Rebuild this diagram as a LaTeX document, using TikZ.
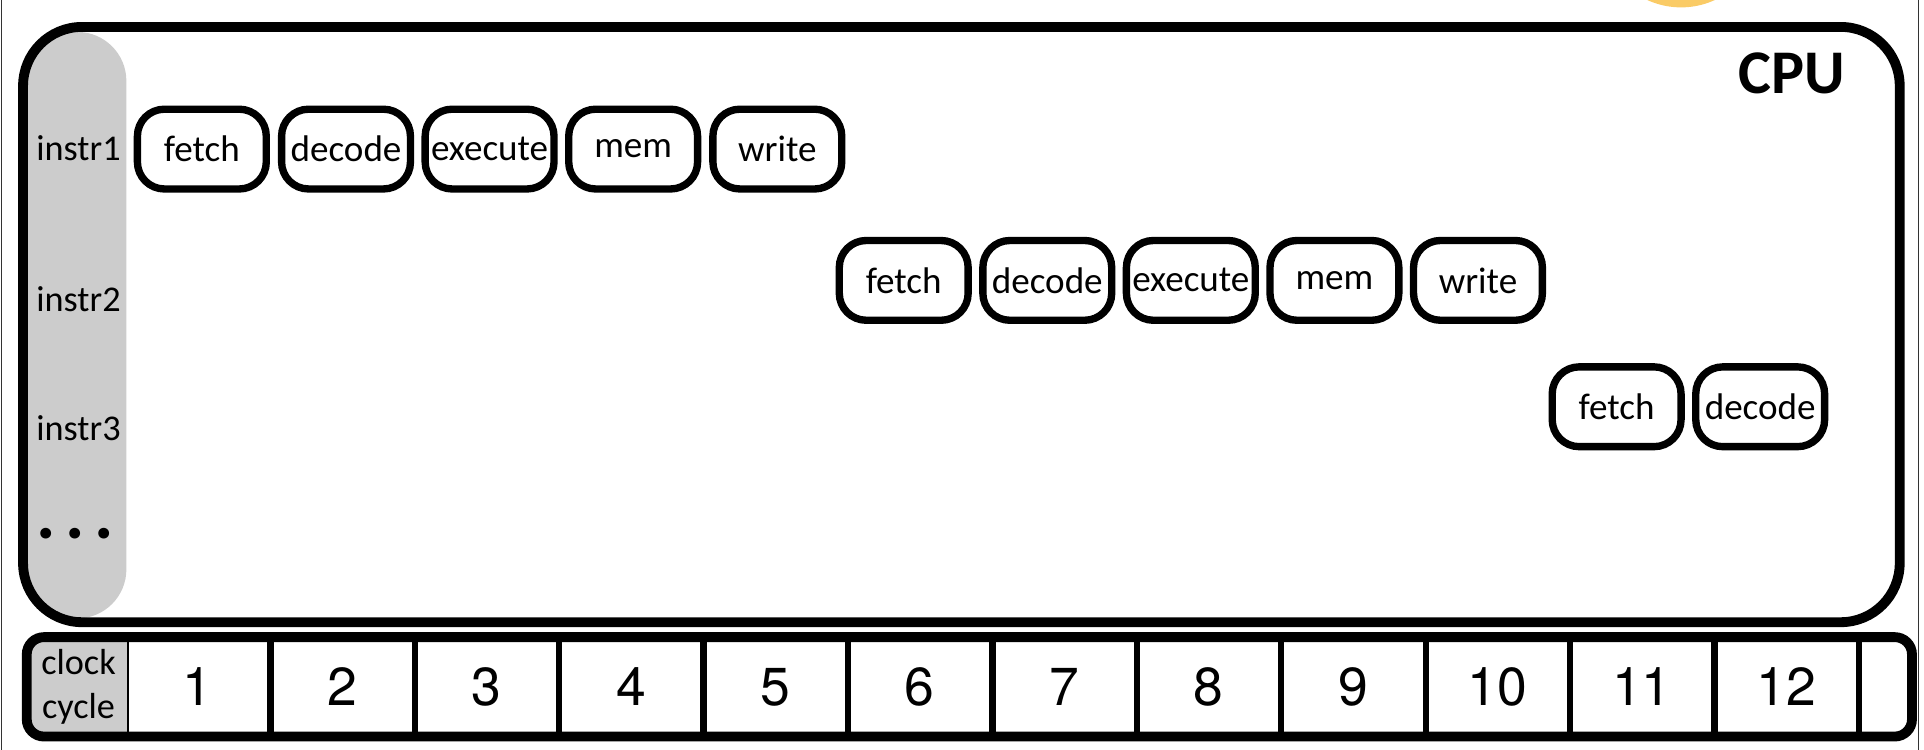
\documentclass[tikz,border=0pt]{standalone}
\usepackage{fontspec}
\setmainfont{Carlito}
\newfontfamily\numfont{TeX Gyre Heros}
\definecolor{stripgray}{RGB}{204,204,204}
\definecolor{sunyellow}{RGB}{250,203,102}
\tikzset{
  stagebox/.style={draw, line width=0.15cm, rounded corners=0.55cm, minimum width=2.625cm, minimum height=1.625cm, inner sep=0pt, fill=white, font=\fontsize{21.5}{25}\selectfont},
  rowlabel/.style={inner sep=0pt, font=\fontsize{21}{25}\selectfont},
  cellnum/.style={inner sep=0pt, minimum width=2.9425cm, minimum height=2.025cm, font=\numfont\fontsize{31}{36}\selectfont},
  divider/.style={line width=0.13cm},
}
\begin{document}
\begin{tikzpicture}[x=0.025cm,y=-0.025cm]
\useasboundingbox (0,0) rectangle (1568,611);
% frame lines of the slide
\draw[line width=0.7pt, black!80] (1,0) -- (1,611);
\draw[line width=0.7pt, black!80] (1563.5,0) -- (1563.5,611);
% partial yellow circle at top
\begin{scope}
\clip (0,0) rectangle (1568,611);
\fill[sunyellow] (1370,-60) circle[radius=1.65cm];
\end{scope}
% CPU box
\begin{scope}
\clip[rounded corners=1.2cm] (19,22) rectangle (1548,507);
\fill[stripgray, rounded corners=1cm] (-60,26) rectangle (103,504);
\end{scope}
\node[draw, line width=0.2cm, rounded corners=1.2cm, minimum width=38.225cm, minimum height=12.125cm, inner sep=0pt] (cpu) at (783.5,264.5) {};
\node[font=\fontsize{36}{40}\selectfont\bfseries, inner sep=0pt] (cputext) at (1460,60) {CPU};
% row labels
\node[rowlabel] (l1) at (64,121) {instr1};
\node[rowlabel] (l2) at (64,244) {instr2};
\node[rowlabel] (l3) at (64,349) {instr3};
\node[rowlabel, font=\fontsize{42}{42}\selectfont\bfseries] (l4) at (61.5,435) {.\hspace{0.2cm}.\hspace{0.2cm}.};
% row 1
\node[stagebox] (a1) at (164.5,121.5) {fetch};
\node[stagebox] (a2) at (282,121.5) {decode};
\node[stagebox] (a3) at (399,121.5) {execute};
\node[stagebox] (a4) at (516,121.5) {mem};
\node[stagebox] (a5) at (633.5,121.5) {write};
% row 2
\node[stagebox] (b1) at (736.5,228.5) {fetch};
\node[stagebox] (b2) at (853.5,228.5) {decode};
\node[stagebox] (b3) at (970.5,228.5) {execute};
\node[stagebox] (b4) at (1087.5,228.5) {mem};
\node[stagebox] (b5) at (1204.5,228.5) {write};
% row 3
\node[stagebox] (c1) at (1317.5,331.5) {fetch};
\node[stagebox] (c2) at (1434.5,331.5) {decode};
% clock bar
\begin{scope}
\clip[rounded corners=0.35cm] (22,519.5) rectangle (1558,600);
\fill[stripgray] (0,510) rectangle (104,610);
\end{scope}
\node[draw, line width=0.2cm, rounded corners=0.35cm, minimum width=38.4cm, minimum height=2.025cm, inner sep=0pt] (bar) at (790,559.75) {};
\node[inner sep=0pt, align=center, font=\fontsize{21}{25.5}\selectfont] (clk) at (64,560) {clock\\cycle};
\draw[line width=0.04cm] (104,519) -- (104,600);
\foreach \k in {1,...,12} {
  \node[cellnum] (n\k) at ({161.15+117.7*(\k-1)},559.75) {\k};
  \draw[divider] (n\k.north east) -- (n\k.south east);
}
\end{tikzpicture}
\end{document}
